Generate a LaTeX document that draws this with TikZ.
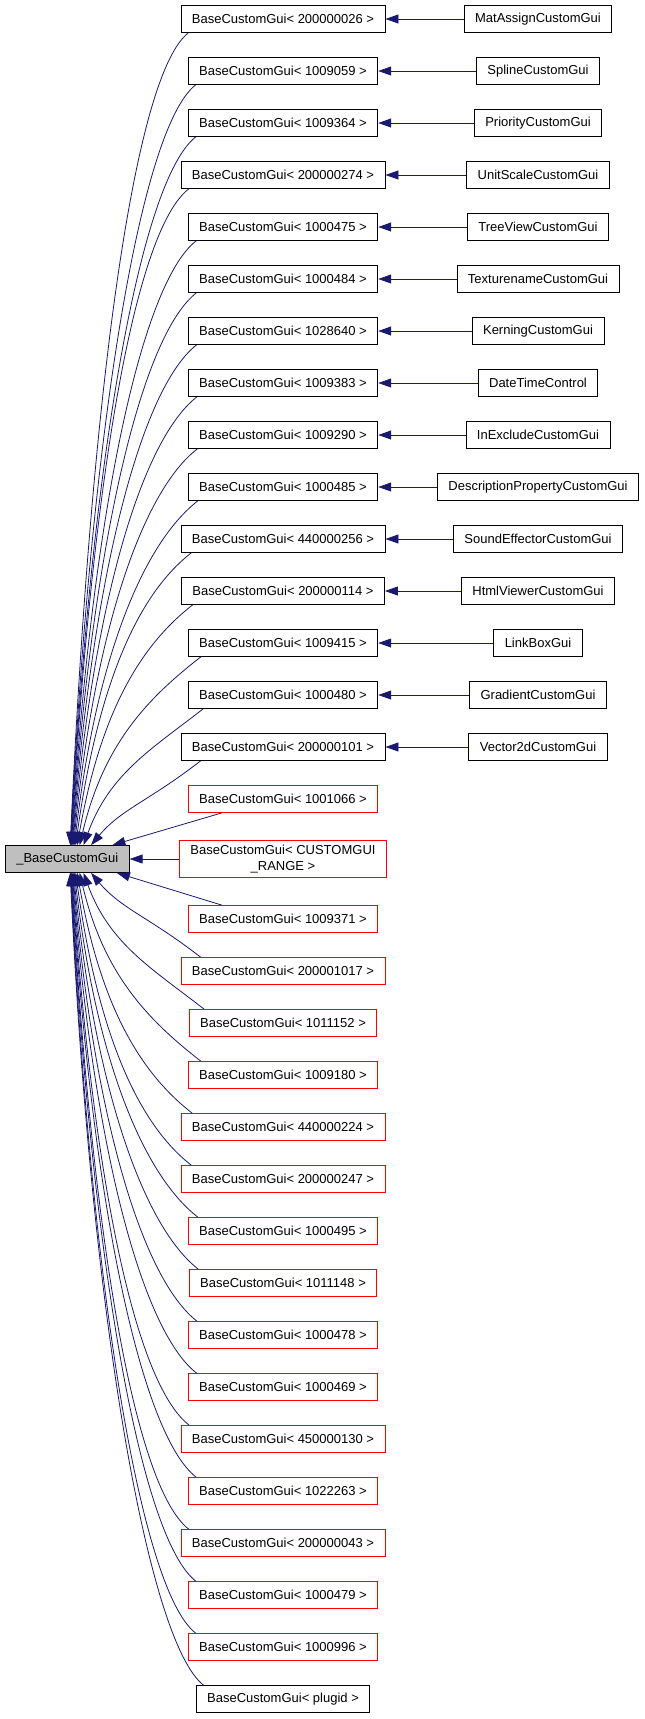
\documentclass[tikz,border=0pt]{standalone}
\usepackage{fontspec}
\setmainfont{Liberation Sans}
\usetikzlibrary{arrows.meta}
\definecolor{edgeblue}{RGB}{25,25,112}
\definecolor{basegray}{RGB}{191,191,191}

\begin{document}
\begin{tikzpicture}[x=1pt,y=-1pt,
        font=\fontsize{13}{15.5}\selectfont,
        every node/.style={draw,rectangle,line width=0.8pt,inner xsep=11pt,inner ysep=3pt,minimum height=27pt},
        cls/.style={draw=black},
        redcls/.style={draw=red},
        edge/.style={draw=edgeblue,line width=0.8pt,-{Triangle[length=13pt,width=9pt]}}]

    \useasboundingbox (0,0) rectangle (645,1719);

    \node[cls,fill=basegray] (root) at (67.25,859) {\_BaseCustomGui};

    % templates with one subclass each
    \foreach \i/\id/\kid in {0/200000026/MatAssignCustomGui, 1/1009059/SplineCustomGui,
            2/1009364/PriorityCustomGui, 3/200000274/UnitScaleCustomGui,
            4/1000475/TreeViewCustomGui, 5/1000484/TexturenameCustomGui,
            6/1028640/KerningCustomGui, 7/1009383/DateTimeControl,
            8/1009290/InExcludeCustomGui, 9/1000485/DescriptionPropertyCustomGui,
            10/440000256/SoundEffectorCustomGui, 11/200000114/HtmlViewerCustomGui,
            12/1009415/LinkBoxGui, 13/1000480/GradientCustomGui,
            14/200000101/Vector2dCustomGui}{
        \node[cls] (m\i) at (283,19+52*\i) {BaseCustomGui< \id\ >};
        \node[cls] (k\i) at (538,19+52*\i) {\kid};
        \draw[edge] (k\i) -- (m\i);
    }

    \node[redcls] (m15) at (283,799) {BaseCustomGui< 1001066 >};
    \node[redcls,align=center,inner ysep=5pt] (m16) at (283,859) {BaseCustomGui< CUSTOMGUI\\\_RANGE >};
    \foreach \i/\id in {17/1009371, 18/200001017, 19/1011152, 20/1009180, 21/440000224,
            22/200000247, 23/1000495, 24/1011148, 25/1000478, 26/1000469,
            27/450000130, 28/1022263, 29/200000043, 30/1000479, 31/1000996}{
        \node[redcls] (m\i) at (283,35+52*\i) {BaseCustomGui< \id\ >};
    }
    \node[cls] (m32) at (283,1699) {BaseCustomGui< plugid >};

    \draw[edge] (m16) -- (root);
    \draw[edge] ([xshift=34]m15.south west) -- ([xshift=107.5]root.north west);
    \draw[edge] ([xshift=34]m17.north west) -- ([xshift=112]root.south west);

    % curved edges above and below
    \foreach \i in {0,...,14}{
        \pgfmathsetmacro\n{15-\i}
        \pgfmathsetmacro\sx{6+28/(\n+1)}
        \pgfmathsetmacro\ex{61.5+46/(\n+1)^0.9}
        \pgfmathsetmacro\dx{180+\sx-\ex}
        \pgfmathsetmacro\cl{0.55*(33.5+52*\n)}
        \pgfmathsetmacro\ang{90-40/\n}
        \pgfmathsetmacro\cx{\cl*cos(\ang)}
        \pgfmathsetmacro\cy{\cl*sin(\ang)}
        \draw[edge] ([xshift=\sx]m\i.south west) .. controls +(-0.45*\dx,0.35*\dx) and +(\cx,-\cy) .. ([xshift=\ex]root.north west);
    }
    \foreach \i in {18,...,32}{
        \pgfmathsetmacro\n{\i-17}
        \pgfmathsetmacro\sx{6+28/(\n+1)}
        \pgfmathsetmacro\ex{61.5+46/(\n+1)^0.9}
        \pgfmathsetmacro\dx{180+\sx-\ex}
        \pgfmathsetmacro\cl{0.55*(33+52*\n)}
        \pgfmathsetmacro\ang{90-40/\n}
        \pgfmathsetmacro\cx{\cl*cos(\ang)}
        \pgfmathsetmacro\cy{\cl*sin(\ang)}
        \draw[edge] ([xshift=\sx]m\i.north west) .. controls +(-0.45*\dx,-0.35*\dx) and +(\cx,\cy) .. ([xshift=\ex]root.south west);
    }
\end{tikzpicture}
\end{document}
